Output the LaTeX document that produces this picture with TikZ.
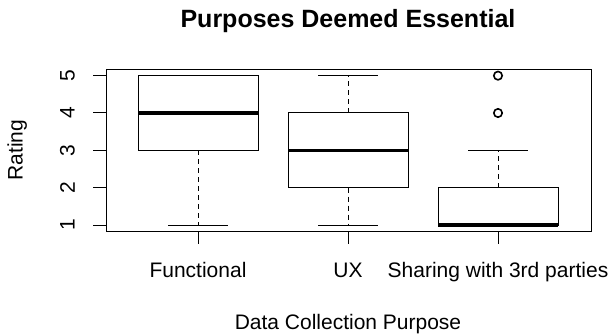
\documentclass[tikz,border=0pt]{standalone}
\usepackage{fontspec}
\setmainfont{Liberation Sans}
\usepackage{tikz}
\usetikzlibrary{calc}

\begin{document}
\begin{tikzpicture}[x=1pt, y=-1pt, line cap=butt,
        box_style/.style={draw=black, line width=1pt},
        median_style/.style={draw=black, line width=3.4pt},
        whisker_style/.style={draw=black, line width=1pt, dash pattern=on 5pt off 4pt},
        staple_style/.style={draw=black, line width=1pt},
        outlier_style/.style={circle, draw=black, line width=1.6pt, minimum size=8.4pt, inner sep=0pt},
        tick_style/.style={draw=black, line width=1pt},
        label_style/.style={font=\fontsize{21}{25}\selectfont},
        title_style/.style={font=\fontsize{25}{30}\selectfont\bfseries}]

        \useasboundingbox (0,0) rectangle (610,334);

        \node [title_style, anchor=base](title) at (348,28) {Purposes Deemed Essential};

        % plot frame
        \draw [box_style] (106,69.7) rectangle (591,231);

        % Functional
        \draw [box_style] (138,75.67) rectangle (258,150.33);
        \draw [median_style] (138,113) -- (258,113);
        \draw [whisker_style] (198,150.33) -- (198,225);
        \draw [staple_style] (168,225) -- (228,225);
        \draw [staple_style] (168,75.67) -- (228,75.67);

        % UX
        \draw [box_style] (288,113) rectangle (408,187.67);
        \draw [median_style] (288,150.33) -- (408,150.33);
        \draw [whisker_style] (348,187.67) -- (348,225);
        \draw [whisker_style] (348,113) -- (348,75.67);
        \draw [staple_style] (318,225) -- (378,225);
        \draw [staple_style] (318,75.67) -- (378,75.67);

        % Sharing with 3rd parties
        \draw [box_style] (438,187.67) rectangle (558,225);
        \draw [median_style] (438,225) -- (558,225);
        \draw [whisker_style] (498,187.67) -- (498,150.33);
        \draw [staple_style] (468,150.33) -- (528,150.33);
        \node [outlier_style](out4) at (498,113) {};
        \node [outlier_style](out5) at (498,75.67) {};

        % y axis
        \draw [tick_style] (106,75.67) -- (106,225);
        \draw [tick_style] (93,75.67) -- (106,75.67);
        \draw [tick_style] (93,113) -- (106,113);
        \draw [tick_style] (93,150.33) -- (106,150.33);
        \draw [tick_style] (93,187.67) -- (106,187.67);
        \draw [tick_style] (93,225) -- (106,225);
        \node [label_style, rotate=90](y5) at (67.5,75.67) {5};
        \node [label_style, rotate=90](y4) at (67.5,113) {4};
        \node [label_style, rotate=90](y3) at (67.5,150.33) {3};
        \node [label_style, rotate=90](y2) at (67.5,187.67) {2};
        \node [label_style, rotate=90](y1) at (67.5,225) {1};
        \node [label_style, rotate=90, anchor=base](ylab) at (22.5,150) {Rating};

        % x axis
        \draw [tick_style] (198,231) -- (498,231);
        \draw [tick_style] (198,231) -- (198,244);
        \draw [tick_style] (348,231) -- (348,244);
        \draw [tick_style] (498,231) -- (498,244);
        \node [label_style, anchor=base](x1) at (198,277.3) {Functional};
        \node [label_style, anchor=base](x2) at (348,277.3) {UX};
        \node [label_style, anchor=base](x3) at (498,277.3) {Sharing with 3rd parties};
        \node [label_style, anchor=base](xlab) at (348,329.3) {Data Collection Purpose};

\end{tikzpicture}
\end{document}
